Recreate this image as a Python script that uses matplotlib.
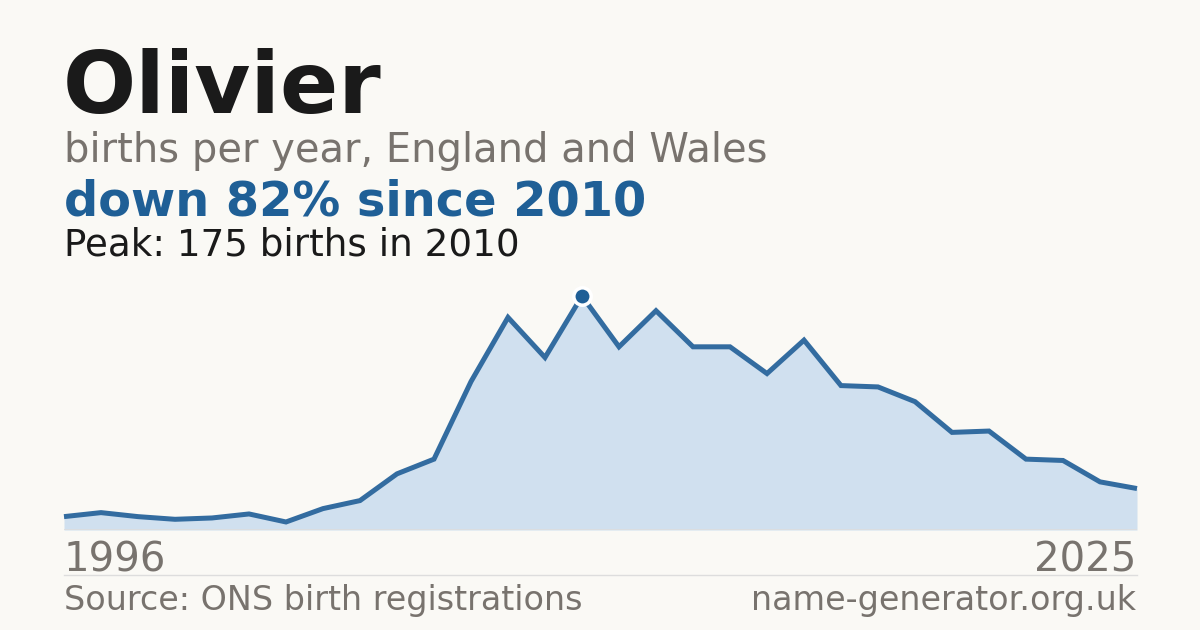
import matplotlib
matplotlib.use("Agg")
import matplotlib.pyplot as plt

years = list(range(1996, 2026))
births = [10, 13, 10, 8, 9, 12, 6, 16, 22, 42, 53, 111, 159, 129, 175, 137, 164, 137, 137, 117,
          142, 108, 107, 96, 73, 74, 53, 52, 36, 31]
name = "Olivier"
subtitle = "births per year, England and Wales"
headline = "down 82% since 2010"
peak_text = "Peak: 175 births in 2010"
source = "Source: ONS birth registrations"
site = "name-generator.org.uk"

W, H = 1200, 630
BG = "#faf9f5"
fig = plt.figure(figsize=(W / 100, H / 100), dpi=100, facecolor=BG)

def fx(px):
    return px / W

def fy(py):
    return 1 - py / H

ax_left, ax_right, ax_top, ax_bottom = 64, 1137, 296, 530
ax = fig.add_axes([fx(ax_left), fy(ax_bottom), fx(ax_right - ax_left), (ax_bottom - ax_top) / H])
ax.set_facecolor("none")
ax.set_xlim(years[0], years[-1])
ax.set_ylim(0, max(births))
ax.fill_between(years, births, 0, color="#d0e0ef", lw=0)
ax.plot(years, births, color="#336ca0", lw=3.6, solid_joinstyle="miter", solid_capstyle="butt", clip_on=False)
pi = births.index(max(births))
ax.plot([years[pi]], [births[pi]], "o", ms=12.5, mfc="#1f5f96", mec="white", mew=2.5, clip_on=False, zorder=5)
ax.axhline(0, color="#dddddd", lw=1.2)
for s in ax.spines.values():
    s.set_visible(False)
ax.set_xticks([])
ax.set_yticks([])

font = "DejaVu Sans"
fig.text(fx(63), fy(112.5), name, fontsize=62, fontweight="bold", color="#1a1a1a", family=font, va="baseline")
fig.text(fx(64), fy(162), subtitle, fontsize=28.8, color="#78736e", family=font, va="baseline")
fig.text(fx(64), fy(216), headline, fontsize=34.5, fontweight="bold", color="#1f5f96", family=font, va="baseline")
fig.text(fx(64), fy(256), peak_text, fontsize=26.8, color="#1a1a1a", family=font, va="baseline")
fig.text(fx(64), fy(571), str(years[0]), fontsize=29, color="#78736e", family=font, va="baseline")
fig.text(fx(1136), fy(571), str(years[-1]), fontsize=29, color="#78736e", family=font, va="baseline", ha="right")
fig.add_artist(plt.Line2D([fx(64), fx(1137)], [fy(574.5), fy(574.5)], color="#dddddd", lw=1.0))
fig.text(fx(64), fy(610), source, fontsize=24, color="#78736e", family=font, va="baseline")
fig.text(fx(1136), fy(610), site, fontsize=24, color="#78736e", family=font, va="baseline", ha="right")

fig.savefig("out.png", dpi=100, facecolor=BG)
